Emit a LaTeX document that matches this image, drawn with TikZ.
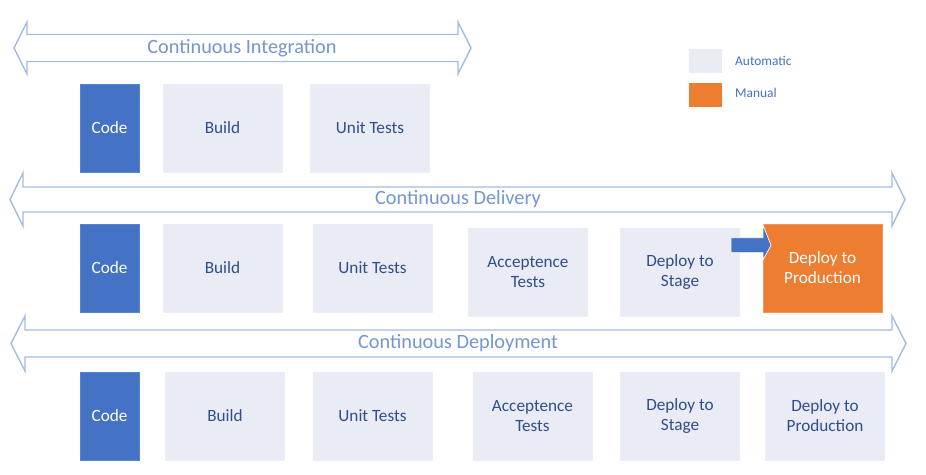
\documentclass[tikz,border=0pt]{standalone}
\usepackage{fontspec}
\setmainfont{Carlito}
\definecolor{autofill}{HTML}{E9EBF5}
\definecolor{codeblue}{HTML}{4472C4}
\definecolor{codeedge}{HTML}{5B82CC}
\definecolor{manual}{HTML}{ED7D31}
\definecolor{boxtext}{HTML}{2F4E8C}
\definecolor{arrowline}{HTML}{A4BCE2}
\definecolor{arrowtext}{HTML}{7397CF}
\definecolor{legtext}{HTML}{4472C4}
\newcommand{\bigdarrow}[6]{%
  \draw[bigarrow] (#1,#3) -- ({#1+#6},{#3-#4}) -- ({#1+#6},{#3-#5}) -- ({#2-#6},{#3-#5}) -- ({#2-#6},{#3-#4}) -- (#2,#3)
    -- ({#2-#6},{#3+#4}) -- ({#2-#6},{#3+#5}) -- ({#1+#6},{#3+#5}) -- ({#1+#6},{#3+#4}) -- cycle;}
\tikzset{
  bigarrow/.style={draw=arrowline, line width=1.4pt, fill=white, line join=miter},
  arrowlabel/.style={text=arrowtext, font=\fontsize{20.3}{22}\selectfont, inner sep=0pt},
  autobox/.style={fill=autofill, draw=autofill!85!white, line width=0.5pt, minimum width=119pt, minimum height=88pt, inner sep=0pt,
    text=boxtext, font=\fontsize{17.2}{20}\selectfont, align=center},
  codebox/.style={fill=codeblue, draw=codeedge, line width=0.8pt, minimum width=59pt, minimum height=88pt, inner sep=0pt,
    text=white, font=\fontsize{17.2}{20}\selectfont, align=center},
  manbox/.style={fill=manual, draw=manual!80!white, line width=0.8pt, minimum width=119pt, minimum height=88pt, inner sep=0pt,
    text=white, font=\fontsize{17.2}{20}\selectfont, align=center},
  legbox/.style={minimum width=33pt, minimum height=24pt, inner sep=0pt},
  legtxt/.style={text=legtext, font=\fontsize{13.4}{15}\selectfont, anchor=west, inner sep=0pt},
}
\begin{document}
\begin{tikzpicture}[x=1pt,y=-1pt]
\useasboundingbox (0,0) rectangle (926,474);
\fill[white] (0,0) rectangle (926,474);
% Continuous Integration
\bigdarrow{14}{471}{48}{26}{13.5}{13}
\node[arrowlabel] (ci) at (242,48) {Continuous Integration};
\node[codebox] (c1) at (109.5,128) {Code};
\node[autobox] (b1) at (222.5,128) {Build};
\node[autobox] (u1) at (370,128) {Unit Tests};
% legend
\node[legbox, fill=autofill] (la) at (705.5,61) {};
\node[legtxt] (lat) at (735,61) {Automatic};
\node[legbox, fill=manual] (lm) at (705.5,95) {};
\node[legtxt] (lmt) at (735,93) {Manual};
% Continuous Delivery
\bigdarrow{10}{905}{199.5}{26.5}{12.5}{13}
\node[arrowlabel] (cd) at (458,199.5) {Continuous Delivery};
\node[codebox] (c2) at (109.5,268) {Code};
\node[autobox] (b2) at (222.5,268) {Build};
\node[autobox] (u2) at (372.5,268) {Unit Tests};
\node[autobox] (a2) at (528,272) {Acceptence\\Tests};
\node[autobox] (s2) at (680,272) {Deploy to\\Stage};
\node[manbox] (p2) at (822.5,268) {Deploy to\\Production};
\draw[white, line width=0.7pt, fill=codeblue] (731,237.7) -- (763,237.7) -- (763,225) -- (771,245.3) -- (763,260) -- (763,252.7) -- (731,252.7) -- cycle;
% Continuous Deployment
\bigdarrow{11}{906}{343.5}{27.5}{13.5}{14}
\node[arrowlabel] (cdp) at (458,343.5) {Continuous Deployment};
\node[codebox] (c3) at (109.5,416) {Code};
\node[autobox] (b3) at (225,416) {Build};
\node[autobox] (u3) at (372.5,416) {Unit Tests};
\node[autobox] (a3) at (532.5,416) {Acceptence\\Tests};
\node[autobox] (s3) at (680,416) {Deploy to\\Stage};
\node[autobox] (p3) at (825,416) {Deploy to\\Production};
\end{tikzpicture}
\end{document}
